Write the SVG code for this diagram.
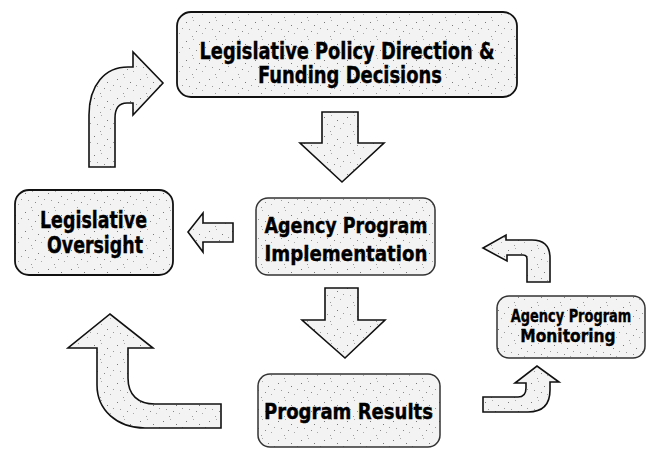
<svg xmlns="http://www.w3.org/2000/svg" width="649" height="449" viewBox="0 0 649 449">
<defs>
<pattern id="spk" width="23" height="19" patternUnits="userSpaceOnUse">
<rect width="23" height="19" fill="#f3f3f3"/>
<rect x="2" y="3" width="1" height="1" fill="#777"/>
<rect x="9" y="1" width="1" height="1" fill="#aaa"/>
<rect x="15" y="6" width="1" height="1" fill="#777"/>
<rect x="5" y="10" width="1" height="1" fill="#999"/>
<rect x="12" y="12" width="1" height="1" fill="#888"/>
<rect x="18" y="14" width="1" height="1" fill="#aaa"/>
<rect x="8" y="17" width="1" height="1" fill="#999"/>
<rect x="21" y="9" width="1" height="1" fill="#999"/>
</pattern>
<style>
.box{fill:url(#spk);stroke:#111;stroke-width:1.8}
.box2{fill:url(#spk);stroke:#333;stroke-width:1.5}
.arr{fill:url(#spk);stroke:#111;stroke-width:1.6;stroke-linejoin:miter}
.t{font-family:"DejaVu Sans","Liberation Sans",sans-serif;font-weight:bold;fill:#000;stroke:#000;stroke-width:0.4;text-anchor:middle}
</style>
</defs>
<rect width="649" height="449" fill="#fff"/>

<g id="connectors">
<path id="arrow-policy-to-agency" class="arr" d="M322,112 H358 V143 H384 L342,182 L300,143 H322 Z"/>
<path id="arrow-agency-to-results" class="arr" d="M325,288 H358 V320 H385 L345,358 L302,320 H325 Z"/>
<path id="arrow-agency-to-oversight" class="arr" d="M233,223 H203 V213 L188,232 L203,252 V242 H233 Z"/>
<path id="arrow-oversight-to-policy" class="arr" d="M89,167 V115 C89,85 105,67 128,67 H133 V52 L163,83 L133,115 V103 H127 C119,103 115,108 115,118 V167 Z"/>
<path id="arrow-results-to-oversight" class="arr" d="M97,348 H68 L110,314 L153,348 H128 V378 C128,395 138,404 155,404 H221 V428 H145 C117,428 97,410 97,385 Z"/>
<path id="arrow-monitoring-to-agency" class="arr" d="M550,282 H527 V259 Q527,255 523,255 H507 V261 L483,248 L506,235 V240 H532 Q550,240 550,258 Z"/>
<path id="arrow-results-to-monitoring" class="arr" d="M483,397 H518 Q526,397 526,388 V383 H515 L537,366 L559,382 H550 V390 Q550,412 528,412 H483 Z"/>
</g>

<g id="node-policy">
<rect class="box" x="177" y="12" width="340" height="85" rx="14"/>
<text class="t" x="347" y="59" font-size="23" textLength="295" lengthAdjust="spacingAndGlyphs">Legislative Policy Direction &amp;</text>
<text class="t" x="350" y="83" font-size="23" textLength="184" lengthAdjust="spacingAndGlyphs">Funding Decisions</text>
</g>

<g id="node-oversight">
<rect class="box" x="15" y="190" width="158" height="85" rx="14"/>
<text class="t" x="93.5" y="228" font-size="23" textLength="107" lengthAdjust="spacingAndGlyphs">Legislative</text>
<text class="t" x="95" y="253" font-size="23" textLength="96" lengthAdjust="spacingAndGlyphs">Oversight</text>
</g>

<g id="node-agency">
<rect class="box2" x="256" y="198" width="179" height="77" rx="12"/>
<text class="t" x="346" y="233" font-size="22" textLength="163" lengthAdjust="spacingAndGlyphs">Agency Program</text>
<text class="t" x="346" y="261" font-size="22" textLength="163" lengthAdjust="spacingAndGlyphs">Implementation</text>
</g>

<g id="node-results">
<rect class="box2" x="258" y="374" width="182" height="73" rx="12"/>
<text class="t" x="348.5" y="419" font-size="22" textLength="169" lengthAdjust="spacingAndGlyphs">Program Results</text>
</g>

<g id="node-monitoring">
<rect class="box2" x="497" y="296" width="148" height="62" rx="12"/>
<text class="t" transform="translate(571,322) scale(0.72,1)" x="0" y="0" font-size="18">Agency Program</text>
<text class="t" transform="translate(568,342) scale(0.86,1)" x="0" y="0" font-size="18">Monitoring</text>
</g>
</svg>
